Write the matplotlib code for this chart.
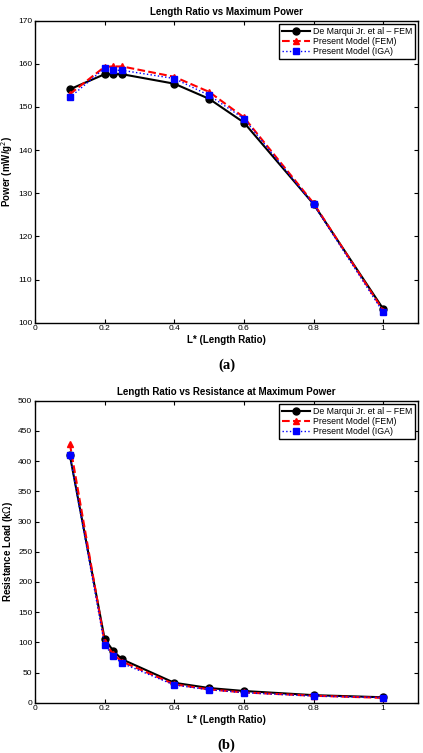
import matplotlib.pyplot as plt

plt.rcParams['font.family'] = ['Liberation Sans', 'DejaVu Sans']

# length ratios
x = [0.1, 0.2, 0.225, 0.25, 0.4, 0.5, 0.6, 0.8, 1.0]

# (a) maximum power, mW/g^2
power_demarqui = [154.1, 157.6, 157.6, 157.6, 155.4, 151.9, 146.4, 127.5, 103.2]
power_fem = [153.0, 159.3, 159.4, 159.4, 157.0, 153.5, 147.6, 127.7, 102.8]
power_iga = [152.2, 159.0, 158.5, 158.5, 156.6, 152.7, 147.3, 127.4, 102.4]

# (b) resistance at maximum power, kOhm
res_demarqui = [410, 105.5, 85.6, 71.8, 33.0, 24.3, 19.4, 12.5, 9.0]
res_fem = [429, 100, 80, 68, 30.5, 22, 17, 11.5, 8.0]
res_iga = [410, 95.5, 77.3, 65.2, 29.3, 21.5, 16.6, 11.0, 8.5]

labels = ['De Marqui Jr. et al – FEM', 'Present Model (FEM)', 'Present Model (IGA)']

fig = plt.figure(figsize=(4.23, 7.53), dpi=100)
ax1 = fig.add_axes([35/423, 1-322.7/753, 383/423, 302/753])
ax2 = fig.add_axes([35/423, 1-702.7/753, 383/423, 302/753])


def draw(ax, a, b, c, title, ylabel, ylim, yticks, tag):
    ax.plot(x, a, 'k-', marker='o', lw=1.5, ms=5, label=labels[0])
    ax.plot(x, b, 'r--', marker='^', lw=1.5, ms=5, label=labels[1])
    ax.plot(x, c, ':', color='#0000ff', marker='s', lw=1.0, ms=4.5, label=labels[2])
    ax.set_xlim(0, 1.1)
    ax.set_ylim(*ylim)
    ax.set_xticks([0, 0.2, 0.4, 0.6, 0.8, 1])
    ax.set_xticklabels(['0', '0.2', '0.4', '0.6', '0.8', '1'])
    ax.set_yticks(yticks)
    ax.tick_params(direction='in', top=True, right=True, labelsize=6, length=3, pad=2)
    for s in ax.spines.values():
        s.set_linewidth(1.0)
    ax.set_title(title, fontsize=7, fontweight='bold', pad=4)
    ax.set_xlabel('L* (Length Ratio)', fontsize=7, fontweight='bold', labelpad=2)
    ax.set_ylabel(ylabel, fontsize=7, fontweight='bold', labelpad=2)
    leg = ax.legend(loc='upper right', fontsize=6.3, fancybox=False, framealpha=1,
                    edgecolor='black', borderpad=0.3, labelspacing=0.15,
                    handlelength=3.2, handletextpad=0.3, borderaxespad=0.4)
    leg.get_frame().set_linewidth(1.0)
    ax.text(0.5, -0.14, tag, transform=ax.transAxes, ha='center', va='center',
            fontsize=10.5, fontweight='bold', family='Liberation Serif')


draw(ax1, power_demarqui, power_fem, power_iga, 'Length Ratio vs Maximum Power',
     'Power (mW/g$^2$)', (100, 170), range(100, 171, 10), '(a)')
draw(ax2, res_demarqui, res_fem, res_iga, 'Length Ratio vs Resistance at Maximum Power',
     'Resistance Load (k$\\Omega$)', (0, 500), range(0, 501, 50), '(b)')

fig.savefig('out.png', dpi=100)
